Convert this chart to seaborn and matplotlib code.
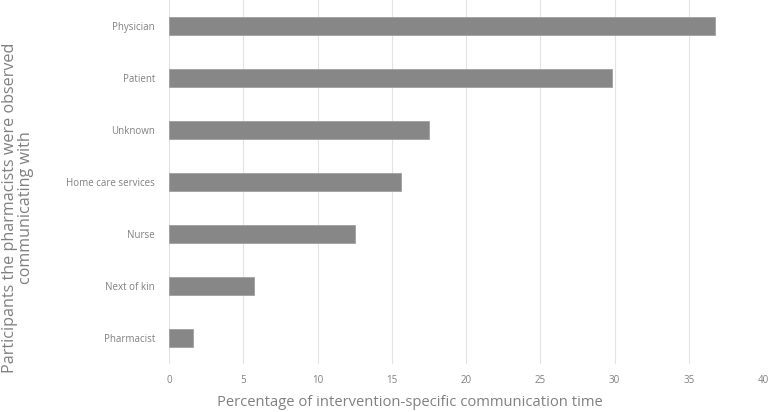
import matplotlib
matplotlib.use("Agg")
import matplotlib.pyplot as plt
import seaborn as sns
import pandas as pd

categories = ["Physician", "Patient", "Unknown", "Home care services", "Nurse", "Next of kin", "Pharmacist"]
values = [36.8, 29.8, 17.5, 15.6, 12.5, 5.7, 1.6]
xticks = [0, 5, 10, 15, 20, 25, 30, 35, 40]

sns.set_theme(style="white")
plt.rcParams['font.family'] = ['Open Sans', 'DejaVu Sans']

df = pd.DataFrame({"cat": categories, "val": values})

fig = plt.figure(figsize=(7.69, 4.12), dpi=100)
ax = fig.add_axes([169/769, 48/412, 594/769, 364/412])
sns.barplot(data=df, x="val", y="cat", orient="h", color="#878787", width=0.35,
            edgecolor="#a0a0a0", linewidth=0.6, ax=ax, zorder=3)
ax.set_xlim(0, 40)
ax.set_xticks(xticks)
ax.set_xticklabels([str(t) for t in xticks])
ax.set_ylim(6.5, -0.5)
ax.grid(axis="x", color="#e3e3e3", linewidth=0.8, zorder=0)
for s in ax.spines.values():
    s.set_visible(False)
ax.tick_params(axis="both", length=0, labelsize=7, labelcolor="#808080")
ax.tick_params(axis="x", pad=8)
ax.tick_params(axis="y", pad=10)
ax.set_xlabel("")
ax.set_ylabel("")
fig.text(410/769, 1 - 403/412, "Percentage of intervention-specific communication time",
         fontsize=10.6, color="#808080", ha="center", va="center")
fig.text(18/769, 1 - 208/412, "Participants the pharmacists were observed\ncommunicating with",
         fontsize=11.6, color="#808080", rotation=90, ha="center", va="center",
         multialignment="center", linespacing=1.0)
fig.savefig("out.png", dpi=100)
